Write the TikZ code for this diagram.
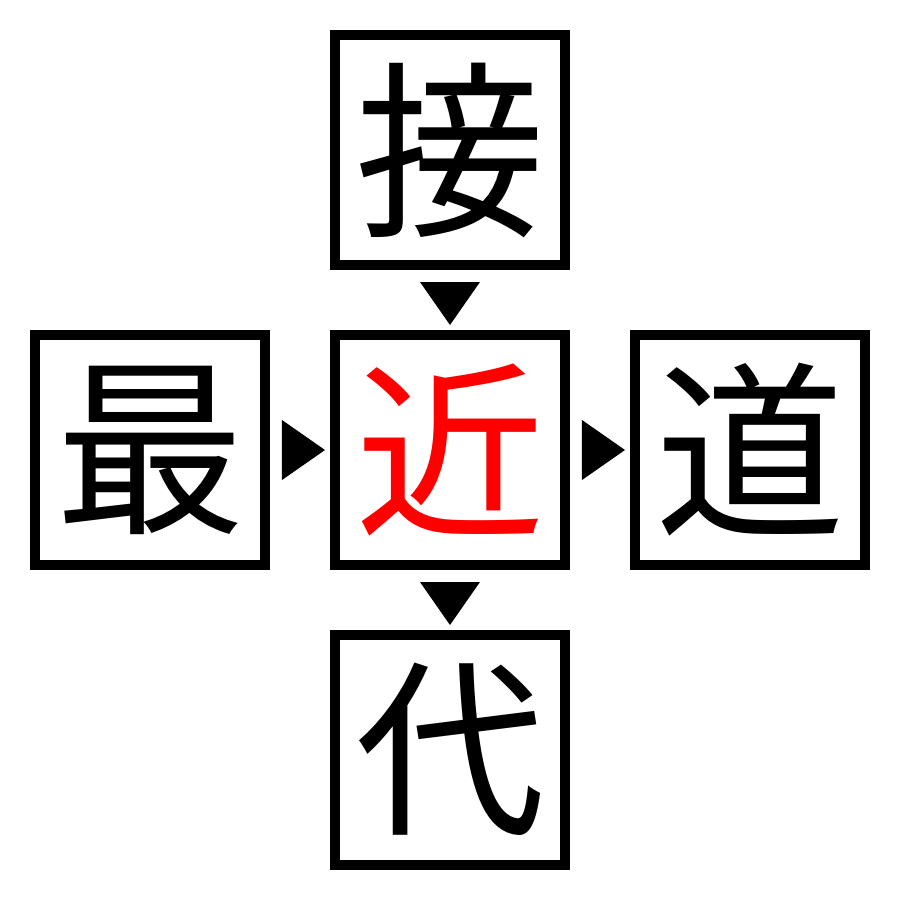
\documentclass[tikz,border=0pt]{standalone}
\usepackage{fontspec}
\newfontfamily\cjk{Noto Sans CJK JP}
\usetikzlibrary{matrix,calc}

\begin{document}
\begin{tikzpicture}[>=stealth,
  kanji/.style={draw,line width=0.1cm,minimum size=2.3cm,inner sep=0pt,
    anchor=center,font=\cjk\fontsize{54}{54}\selectfont},
  pointer/.style={fill=black}]
\useasboundingbox (-4.5,-4.5) rectangle (4.5,4.5);
\matrix [matrix of nodes,nodes={kanji},column sep=6mm,row sep=6mm,ampersand replacement=\&]
{
 \& |(Top)| 接 \& \\
|(Left)| 最 \& |(Center)[text=red]| 近 \& |(Right)| 道 \\
 \& |(Bottom)| 代 \& \\
};
% horizontal pointers
\fill[pointer] ($(Left.east)+(0.12,0.3)$) -- ($(Left.east)+(0.12,-0.3)$)
  -- ($(Center.west)+(-0.05,0)$) -- cycle;
\fill[pointer] ($(Center.east)+(0.12,0.3)$) -- ($(Center.east)+(0.12,-0.3)$)
  -- ($(Right.west)+(-0.05,0)$) -- cycle;
% vertical pointers
\fill[pointer] ($(Top.south)+(-0.3,-0.12)$) -- ($(Top.south)+(0.3,-0.12)$)
  -- ($(Center.north)+(0,0.05)$) -- cycle;
\fill[pointer] ($(Center.south)+(-0.3,-0.12)$) -- ($(Center.south)+(0.3,-0.12)$)
  -- ($(Bottom.north)+(0,0.05)$) -- cycle;
\end{tikzpicture}
\end{document}
